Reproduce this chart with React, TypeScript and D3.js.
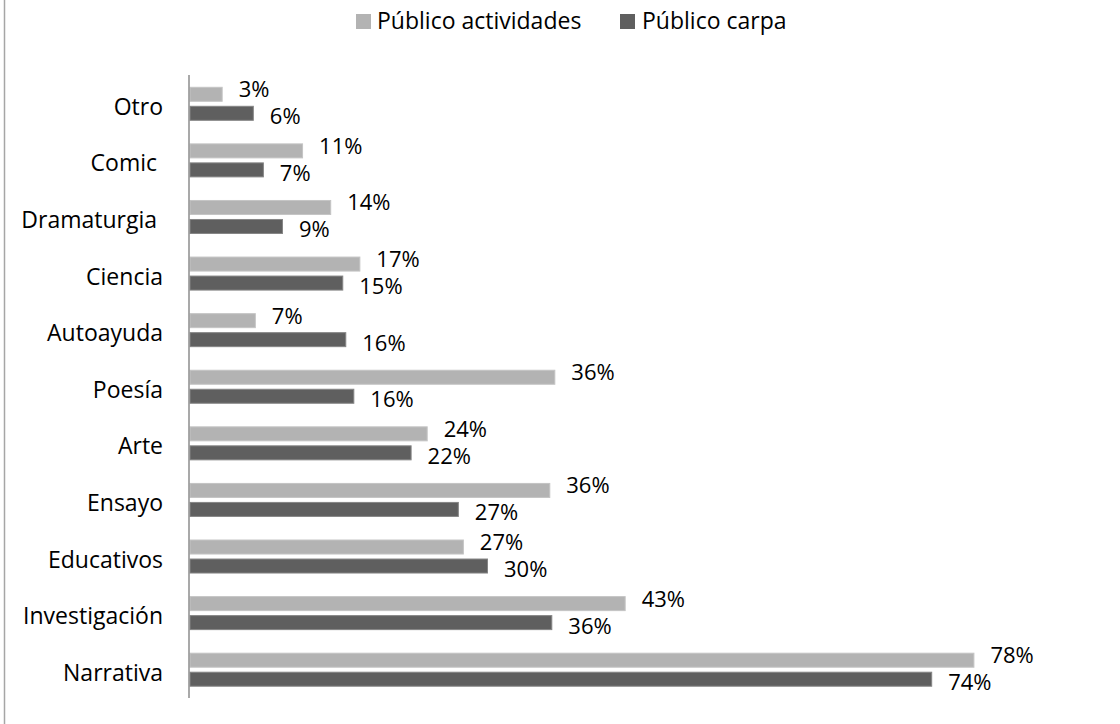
import React from "react";
import * as d3 from "d3";

const categories = [
  "Otro",
  "Comic ",
  "Dramaturgia ",
  "Ciencia",
  "Autoayuda",
  "Poesía",
  "Arte",
  "Ensayo",
  "Educativos",
  "Investigación",
  "Narrativa",
];
const seriesNames = ["Público actividades", "Público carpa"];
const actividades = [0.033, 0.113, 0.141, 0.17, 0.066, 0.364, 0.237, 0.359, 0.273, 0.434, 0.781];
const carpa = [0.064, 0.074, 0.093, 0.153, 0.156, 0.164, 0.221, 0.268, 0.297, 0.361, 0.739];

const W = 1120;
const H = 724;
const FONT = "'Open Sans', sans-serif";
const LIGHT = "#b3b3b3";
const LIGHT_STROKE = "#c4c4c4";
const DARK = "#5f5f5f";
const DARK_STROKE = "#858585";

export default function App() {
  const x = d3.scaleLinear().domain([0, 1]).range([189.5, 189.5 + 1005]);
  const y = d3.scaleBand<string>().domain(categories).range([75.5, 698]).padding(0);
  const step = y.step();
  const barH = 15;
  const gap = 4;
  const groupH = barH * 2 + gap;
  const fmt = d3.format(".0%");

  return (
    <svg
      width={W}
      height={H}
      style={{ position: "absolute", left: 0, top: 0, background: "#fff" }}
      fontFamily={FONT}
    >
      <line x1={4.5} x2={4.5} y1={0} y2={H} stroke="#a6a6a6" strokeWidth={1.5} />

      {/* legend */}
      <rect x={356} y={14} width={15} height={15} fill={LIGHT} />
      <text x={377} y={29} fontSize={23} fill="#000">{seriesNames[0]}</text>
      <rect x={620} y={14} width={15} height={15} fill={DARK} />
      <text x={642} y={29} fontSize={23} fill="#000">{seriesNames[1]}</text>

      {categories.map((c, i) => {
        const y0 = (y(c) as number) + (step - groupH) / 2;
        const center = y0 + groupH / 2;
        const x0 = x(0);
        const xa = x(actividades[i]);
        const xc = x(carpa[i]);
        return (
          <g key={c}>
            <text
              x={163}
              y={center + 11}
              fontSize={23}
              textAnchor="end"
              fill="#000"
              style={{ whiteSpace: "pre" }}
            >
              {c}
            </text>
            <rect
              x={x0 + 0.5}
              y={y0 + 0.5}
              width={xa - x0 - 1}
              height={barH - 1}
              fill={LIGHT}
              stroke={LIGHT_STROKE}
              strokeWidth={1}
            />
            <rect
              x={x0 + 0.5}
              y={y0 + barH + gap + 0.5}
              width={xc - x0 - 1}
              height={barH - 1}
              fill={DARK}
              stroke={DARK_STROKE}
              strokeWidth={1}
            />
            <text x={xa + 16} y={y0 + barH / 2 + 3} fontSize={22} fill="#000">
              {fmt(actividades[i])}
            </text>
            <text x={xc + 16} y={y0 + barH + gap + barH / 2 + 11} fontSize={22} fill="#000">
              {fmt(carpa[i])}
            </text>
          </g>
        );
      })}

      <line x1={189} x2={189} y1={75} y2={698} stroke="#8c8c8c" strokeWidth={1.5} />
    </svg>
  );
}
